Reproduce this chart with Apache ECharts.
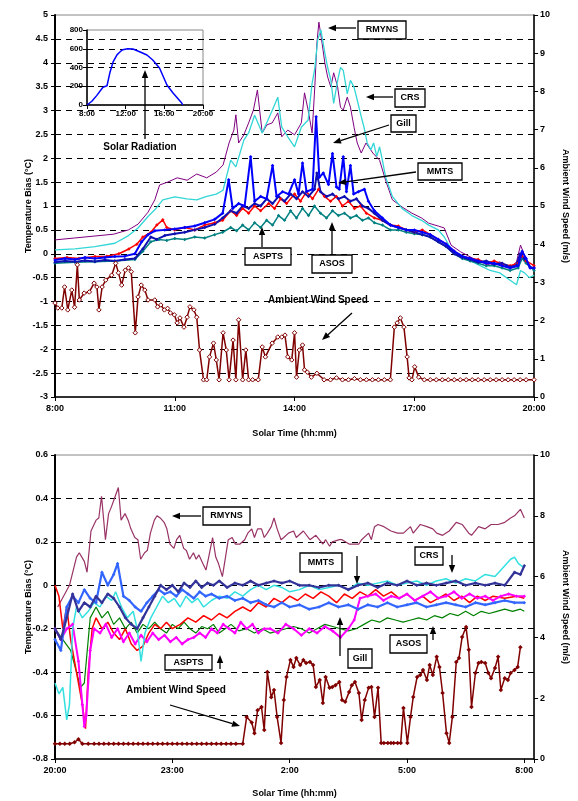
<!DOCTYPE html>
<html><head><meta charset="utf-8">
<script src="https://cdn.jsdelivr.net/npm/echarts@6/dist/echarts.min.js"></script>
<style>html,body{margin:0;padding:0;background:#fff}#c{width:578px;height:801px}</style>
</head><body><div id="c"></div>
<script>
// ---------- DATA (time in clock hours) ----------
// Top panel: daytime 8:00-20:00, temperature bias (°C) and wind speed (m/s)
const topRMYNS = [[8.00,0.29],[8.49,0.33],[8.98,0.37],[9.47,0.41],[9.84,0.50],[10.08,0.62],[10.33,0.87],[10.50,1.13],[10.62,1.44],[10.82,1.50],[11.06,1.59],[11.31,1.54],[11.55,1.67],[11.80,1.59],[12.04,1.71],[12.21,1.86],[12.36,2.32],[12.48,2.59],[12.53,2.91],[12.60,2.32],[12.73,2.49],[12.85,2.74],[12.97,3.01],[13.07,3.43],[13.19,2.53],[13.31,2.70],[13.44,2.74],[13.58,2.95],[13.68,2.45],[13.83,2.59],[14.00,2.49],[14.17,2.74],[14.25,3.37],[14.34,3.01],[14.44,2.53],[14.51,3.53],[14.56,4.41],[14.61,4.85],[14.69,4.41],[14.76,3.99],[14.83,3.70],[14.91,3.49],[14.98,3.79],[15.08,3.49],[15.15,3.07],[15.22,3.01],[15.32,3.28],[15.40,3.07],[15.49,2.65],[15.57,2.32],[15.67,2.11],[15.79,2.32],[15.96,2.11],[16.13,1.96],[16.28,1.54],[16.45,1.13],[16.69,0.98],[16.94,0.85],[17.18,0.75],[17.36,0.64],[17.60,0.58],[17.75,0.54],[17.92,0.18],[18.16,0.04],[18.41,-0.07],[18.65,-0.17],[18.90,-0.24],[19.14,-0.17],[19.39,-0.30],[19.56,-0.17],[19.66,0.18],[19.76,-0.03],[19.88,-0.24],[20.00,-0.34]];
const topCRS = [[8.00,0.08],[8.50,0.10],[9.00,0.15],[9.50,0.22],[9.84,0.38],[10.08,0.54],[10.33,0.78],[10.50,0.92],[10.70,1.13],[11.00,1.19],[11.30,1.15],[11.55,1.13],[11.80,1.20],[12.04,1.25],[12.21,1.33],[12.40,1.96],[12.53,1.82],[12.73,2.38],[12.85,2.53],[13.00,2.90],[13.19,2.53],[13.44,3.00],[13.58,3.28],[13.68,2.65],[13.83,2.45],[14.00,2.24],[14.17,2.65],[14.34,2.80],[14.44,3.57],[14.51,3.90],[14.58,4.48],[14.66,4.69],[14.76,4.20],[14.83,3.90],[14.91,3.63],[14.98,3.15],[15.08,3.63],[15.15,3.90],[15.22,3.84],[15.32,3.35],[15.40,3.63],[15.49,3.49],[15.57,3.22],[15.67,2.87],[15.74,2.65],[15.82,2.32],[15.91,2.18],[15.98,2.32],[16.06,2.04],[16.13,2.24],[16.20,1.96],[16.28,1.61],[16.45,1.20],[16.69,0.95],[16.94,0.80],[17.18,0.70],[17.36,0.60],[17.60,0.50],[17.75,0.35],[17.92,0.10],[18.16,-0.05],[18.41,-0.15],[18.65,-0.25],[18.90,-0.35],[19.14,-0.40],[19.39,-0.55],[19.56,-0.65],[19.66,-0.35],[19.76,-0.40],[19.88,-0.50],[20.00,-0.45]];
const topGill = [[8.00,-0.13],[8.25,-0.10],[8.50,-0.12],[8.75,-0.08],[9.00,-0.10],[9.25,-0.08],[9.50,-0.06],[9.75,-0.05],[10.00,0.00],[10.17,0.25],[10.33,0.40],[10.50,0.48],[10.75,0.50],[11.00,0.52],[11.25,0.55],[11.50,0.58],[11.75,0.65],[12.00,0.72],[12.20,0.85],[12.35,1.55],[12.45,0.95],[12.60,1.05],[12.75,1.00],[12.90,2.03],[13.00,1.10],[13.15,1.20],[13.30,1.15],[13.45,1.85],[13.55,1.20],[13.70,1.30],[13.85,1.25],[14.00,1.55],[14.10,1.25],[14.20,1.90],[14.30,1.30],[14.45,1.35],[14.54,2.87],[14.62,1.60],[14.72,1.69],[14.85,1.45],[14.95,2.10],[15.05,1.40],[15.12,1.35],[15.22,2.03],[15.30,1.30],[15.40,1.85],[15.48,1.25],[15.60,1.30],[15.75,1.35],[15.85,1.10],[16.00,0.90],[16.20,0.75],[16.40,0.60],[16.60,0.55],[16.80,0.50],[17.00,0.50],[17.20,0.45],[17.40,0.40],[17.60,0.30],[17.80,0.20],[18.00,0.05],[18.20,-0.05],[18.40,-0.10],[18.60,-0.15],[18.80,-0.20],[19.00,-0.20],[19.20,-0.25],[19.40,-0.30],[19.60,-0.25],[19.70,0.05],[19.80,-0.10],[19.90,-0.30],[20.00,-0.30]];
const topMMTS = [[8.00,-0.18],[8.25,-0.15],[8.50,-0.17],[8.75,-0.14],[9.00,-0.16],[9.25,-0.13],[9.50,-0.15],[9.75,-0.12],[10.00,-0.10],[10.20,0.10],[10.40,0.35],[10.55,0.30],[10.75,0.38],[11.00,0.42],[11.25,0.45],[11.50,0.50],[11.75,0.55],[12.00,0.62],[12.20,0.75],[12.40,0.90],[12.55,0.85],[12.70,1.00],[12.85,0.95],[13.00,1.05],[13.15,1.00],[13.30,1.15],[13.45,1.05],[13.60,1.20],[13.75,1.10],[13.90,1.25],[14.05,1.15],[14.20,1.30],[14.35,1.20],[14.50,1.35],[14.56,1.69],[14.65,1.30],[14.80,1.20],[14.95,1.25],[15.10,1.15],[15.25,1.20],[15.40,1.10],[15.55,1.15],[15.70,1.00],[15.85,0.95],[16.00,0.85],[16.20,0.70],[16.40,0.60],[16.60,0.55],[16.80,0.50],[17.00,0.45],[17.20,0.40],[17.40,0.35],[17.60,0.25],[17.80,0.15],[18.00,0.00],[18.20,-0.08],[18.40,-0.12],[18.60,-0.18],[18.80,-0.15],[19.00,-0.22],[19.20,-0.20],[19.40,-0.27],[19.55,-0.25],[19.65,0.00],[19.75,-0.10],[19.90,-0.28],[20.00,-0.30]];
const topASPTS = [[8.00,-0.10],[8.30,-0.08],[8.60,-0.10],[9.00,-0.06],[9.30,-0.05],[9.60,0.00],[9.85,0.10],[10.05,0.20],[10.20,0.35],[10.40,0.45],[10.55,0.60],[10.70,0.71],[10.80,0.55],[11.00,0.50],[11.25,0.55],[11.50,0.50],[11.75,0.60],[12.00,0.65],[12.20,0.70],[12.40,0.90],[12.55,0.80],[12.70,0.95],[12.85,0.85],[13.00,1.00],[13.15,0.90],[13.35,1.05],[13.50,0.95],[13.65,1.15],[13.80,1.05],[14.00,1.25],[14.15,1.10],[14.30,1.30],[14.45,1.15],[14.60,1.35],[14.75,1.20],[14.90,1.10],[15.05,1.20],[15.20,1.00],[15.35,1.10],[15.50,0.95],[15.65,1.00],[15.80,0.85],[16.00,0.75],[16.20,0.70],[16.40,0.60],[16.60,0.58],[16.80,0.50],[17.00,0.45],[17.20,0.50],[17.40,0.40],[17.60,0.30],[17.80,0.20],[18.00,0.05],[18.20,-0.05],[18.40,-0.10],[18.60,-0.12],[18.80,-0.20],[19.00,-0.15],[19.20,-0.22],[19.40,-0.25],[19.60,-0.20],[19.70,-0.05],[19.80,-0.15],[20.00,-0.25]];
const topASOS = [[8.00,-0.20],[8.50,-0.18],[9.00,-0.17],[9.50,-0.15],[10.00,-0.12],[10.20,0.05],[10.40,0.25],[10.60,0.30],[10.80,0.28],[11.00,0.32],[11.25,0.30],[11.50,0.35],[11.75,0.33],[12.00,0.40],[12.20,0.45],[12.40,0.55],[12.55,0.48],[12.70,0.60],[12.85,0.50],[13.00,0.65],[13.15,0.55],[13.30,0.70],[13.45,0.60],[13.60,0.80],[13.75,0.70],[13.90,0.90],[14.05,0.75],[14.20,0.95],[14.35,0.80],[14.50,1.00],[14.65,0.85],[14.80,0.75],[14.95,0.90],[15.10,0.80],[15.25,0.85],[15.40,0.75],[15.55,0.80],[15.70,0.70],[15.85,0.75],[16.00,0.65],[16.20,0.60],[16.40,0.50],[16.60,0.50],[16.80,0.45],[17.00,0.42],[17.20,0.40],[17.40,0.35],[17.60,0.25],[17.80,0.15],[18.00,0.00],[18.20,-0.10],[18.40,-0.15],[18.60,-0.20],[18.80,-0.25],[19.00,-0.25],[19.20,-0.30],[19.40,-0.35],[19.60,-0.30],[19.70,-0.10],[19.80,-0.20],[20.00,-0.35]];
const topWind = [[8.00,2.46],[8.07,2.33],[8.17,2.33],[8.24,2.88],[8.32,2.28],[8.42,2.80],[8.49,2.35],[8.56,3.46],[8.61,2.54],[8.73,2.72],[8.86,2.75],[8.98,2.98],[9.05,2.88],[9.10,2.28],[9.18,2.88],[9.27,3.06],[9.42,3.19],[9.52,3.50],[9.59,3.25],[9.67,2.93],[9.76,3.32],[9.84,3.38],[9.91,3.28],[10.01,1.68],[10.08,2.62],[10.16,2.93],[10.25,2.80],[10.33,2.54],[10.50,2.54],[10.57,2.36],[10.65,2.41],[10.74,2.28],[10.82,2.32],[10.89,2.20],[10.99,2.15],[11.06,1.94],[11.13,2.07],[11.23,1.83],[11.31,2.09],[11.38,2.36],[11.48,2.28],[11.55,2.09],[11.62,1.23],[11.72,0.45],[11.80,0.45],[11.87,1.05],[11.97,1.41],[12.04,0.97],[12.11,0.45],[12.21,1.68],[12.29,1.23],[12.36,0.45],[12.46,1.49],[12.53,0.45],[12.60,2.02],[12.70,0.45],[12.78,1.23],[12.85,0.45],[12.95,0.45],[13.09,0.45],[13.19,1.31],[13.27,1.05],[13.44,1.41],[13.58,1.57],[13.68,1.57],[13.76,1.62],[13.83,1.05],[13.93,0.97],[14.00,1.68],[14.05,0.52],[14.12,1.23],[14.20,1.36],[14.25,0.71],[14.32,0.65],[14.42,0.52],[14.56,0.62],[14.74,0.45],[14.90,0.45],[15.05,0.50],[15.20,0.45],[15.35,0.45],[15.50,0.48],[15.65,0.45],[15.80,0.45],[15.95,0.45],[16.10,0.45],[16.25,0.45],[16.40,0.45],[16.50,1.83],[16.57,1.94],[16.65,2.07],[16.74,1.83],[16.82,1.05],[16.87,0.50],[16.94,0.45],[17.01,0.79],[17.11,0.52],[17.25,0.45],[17.40,0.45],[17.55,0.45],[17.70,0.45],[17.85,0.45],[18.00,0.45],[18.15,0.45],[18.30,0.45],[18.45,0.45],[18.60,0.45],[18.75,0.45],[18.90,0.45],[19.05,0.45],[19.20,0.45],[19.35,0.45],[19.50,0.45],[19.65,0.45],[19.80,0.45],[20.00,0.45]];
// Inset: solar radiation (W/m2)
const solarRad = [[8.0,0],[8.5,40],[9.0,100],[9.65,190],[10.07,205],[10.38,350],[10.7,460],[11.1,535],[11.4,565],[11.7,590],[12.2,600],[12.76,597],[13.5,565],[14.2,533],[14.8,480],[15.5,395],[16.27,213],[16.9,128],[17.8,21],[17.9,0]];

// Bottom panel: night 20:00-8:00 (hours after midnight written as 24+)
const botRMYNS = [[20.07,-0.10],[20.37,0.00],[20.55,0.13],[20.62,0.15],[20.75,0.11],[20.82,0.06],[20.92,0.25],[21.05,0.30],[21.12,0.31],[21.19,0.41],[21.29,0.21],[21.37,0.33],[21.44,0.36],[21.54,0.41],[21.62,0.45],[21.69,0.30],[21.79,0.33],[21.87,0.30],[21.94,0.26],[22.04,0.22],[22.12,0.21],[22.19,0.12],[22.29,0.15],[22.36,0.16],[22.44,0.24],[22.54,0.30],[22.61,0.32],[22.69,0.31],[22.79,0.29],[22.86,0.26],[22.94,0.19],[23.04,0.17],[23.11,0.21],[23.19,0.23],[23.29,0.17],[23.36,0.16],[23.44,0.12],[23.54,0.15],[23.61,0.12],[23.68,0.14],[23.78,0.10],[23.86,0.07],[23.93,0.13],[24.03,0.22],[24.11,0.13],[24.18,0.10],[24.28,0.04],[24.36,0.13],[24.43,0.21],[24.53,0.22],[24.61,0.19],[24.73,0.19],[24.85,0.21],[24.93,0.24],[25.03,0.26],[25.10,0.22],[25.18,0.26],[25.28,0.26],[25.35,0.22],[25.43,0.24],[25.53,0.27],[25.60,0.31],[25.68,0.26],[25.78,0.21],[25.85,0.22],[25.97,0.24],[26.10,0.25],[26.17,0.22],[26.35,0.25],[26.52,0.21],[26.67,0.23],[26.85,0.19],[26.92,0.21],[27.02,0.18],[27.09,0.20],[27.27,0.21],[27.34,0.21],[27.52,0.19],[27.67,0.19],[27.77,0.19],[27.84,0.21],[28.02,0.24],[28.09,0.21],[28.17,0.27],[28.26,0.28],[28.41,0.27],[28.59,0.25],[28.76,0.24],[28.91,0.24],[29.09,0.27],[29.16,0.24],[29.34,0.28],[29.51,0.27],[29.66,0.26],[29.76,0.24],[29.91,0.23],[30.08,0.25],[30.26,0.29],[30.41,0.28],[30.58,0.24],[30.65,0.23],[30.83,0.27],[31.00,0.26],[31.15,0.28],[31.33,0.28],[31.50,0.29],[31.65,0.31],[31.75,0.32],[31.90,0.35],[32.00,0.31]];
const botCRS = [[20.00,-0.45],[20.10,-0.50],[20.20,-0.47],[20.30,-0.62],[20.37,-0.55],[20.45,-0.20],[20.55,-0.10],[20.70,-0.15],[20.85,-0.12],[21.00,-0.08],[21.15,-0.10],[21.30,-0.05],[21.45,-0.07],[21.55,-0.03],[21.70,-0.10],[21.85,-0.15],[22.00,-0.12],[22.10,-0.20],[22.20,-0.35],[22.30,-0.22],[22.45,-0.15],[22.60,-0.10],[22.75,-0.05],[22.90,-0.08],[23.05,-0.06],[23.20,-0.10],[23.35,-0.05],[23.50,-0.08],[23.65,-0.06],[23.80,-0.10],[24.00,-0.07],[24.20,-0.05],[24.40,-0.06],[24.60,-0.03],[24.80,-0.05],[25.00,-0.02],[25.20,0.00],[25.40,-0.02],[25.60,0.00],[25.80,-0.01],[26.00,-0.03],[26.25,-0.02],[26.50,0.00],[26.75,-0.02],[27.00,-0.01],[27.25,0.00],[27.50,-0.02],[27.75,0.01],[28.00,0.00],[28.25,0.01],[28.50,0.02],[28.75,0.00],[29.00,0.01],[29.25,0.02],[29.50,0.00],[29.75,0.02],[30.00,0.03],[30.25,0.01],[30.50,0.03],[30.75,0.02],[31.00,0.05],[31.25,0.04],[31.50,0.09],[31.65,0.12],[31.75,0.13],[31.85,0.10],[32.00,0.08]];
const botMMTS = [[20.00,-0.20],[20.15,-0.25],[20.30,-0.15],[20.45,-0.04],[20.60,-0.12],[20.75,-0.08],[20.90,-0.10],[21.05,-0.05],[21.20,-0.08],[21.35,-0.04],[21.50,-0.06],[21.65,-0.10],[21.80,-0.15],[21.95,-0.18],[22.10,-0.20],[22.25,-0.15],[22.40,-0.10],[22.55,-0.05],[22.70,0.00],[22.85,-0.02],[23.00,0.00],[23.15,-0.03],[23.30,0.01],[23.45,-0.01],[23.60,0.02],[23.75,-0.01],[23.90,0.01],[24.05,0.00],[24.20,0.02],[24.40,-0.01],[24.60,0.01],[24.80,0.00],[25.00,0.02],[25.20,0.00],[25.40,0.01],[25.60,0.02],[25.80,0.01],[26.00,0.02],[26.25,0.00],[26.50,0.00],[26.75,-0.01],[27.00,0.00],[27.25,0.00],[27.50,-0.02],[27.75,0.00],[28.00,0.01],[28.25,-0.01],[28.50,0.01],[28.75,0.00],[29.00,0.02],[29.25,0.00],[29.50,0.01],[29.75,0.00],[30.00,0.01],[30.25,0.02],[30.50,0.00],[30.75,0.01],[31.00,0.00],[31.25,0.01],[31.50,0.00],[31.75,0.06],[31.90,0.05],[32.00,0.09]];
const botGill = [[20.00,-0.25],[20.15,-0.30],[20.30,-0.10],[20.45,-0.05],[20.60,-0.08],[20.75,-0.02],[20.90,-0.06],[21.05,-0.08],[21.20,0.06],[21.35,0.00],[21.50,0.05],[21.60,0.10],[21.75,-0.05],[21.90,-0.07],[22.05,-0.10],[22.20,-0.12],[22.35,-0.08],[22.50,-0.05],[22.65,-0.02],[22.80,-0.04],[22.95,-0.03],[23.10,-0.05],[23.25,-0.02],[23.40,-0.04],[23.55,-0.06],[23.70,-0.03],[23.85,-0.05],[24.00,-0.04],[24.20,-0.06],[24.40,-0.05],[24.60,-0.07],[24.80,-0.06],[25.00,-0.08],[25.20,-0.07],[25.40,-0.09],[25.60,-0.10],[25.80,-0.08],[26.00,-0.10],[26.25,-0.09],[26.50,-0.11],[26.75,-0.10],[27.00,-0.08],[27.25,-0.10],[27.50,-0.09],[27.75,-0.11],[28.00,-0.09],[28.25,-0.10],[28.50,-0.08],[28.75,-0.10],[29.00,-0.09],[29.25,-0.08],[29.50,-0.10],[29.75,-0.09],[30.00,-0.08],[30.25,-0.09],[30.50,-0.10],[30.75,-0.08],[31.00,-0.09],[31.25,-0.08],[31.50,-0.07],[31.75,-0.08],[32.00,-0.08]];
const botASPTS = [[20.00,-0.20],[20.15,-0.25],[20.30,-0.20],[20.45,-0.18],[20.60,-0.35],[20.70,-0.55],[20.75,-0.65],[20.80,-0.60],[20.90,-0.30],[21.00,-0.20],[21.15,-0.22],[21.30,-0.18],[21.45,-0.24],[21.60,-0.20],[21.75,-0.26],[21.90,-0.22],[22.05,-0.27],[22.20,-0.23],[22.35,-0.26],[22.50,-0.22],[22.65,-0.25],[22.80,-0.23],[22.95,-0.26],[23.10,-0.24],[23.25,-0.27],[23.40,-0.25],[23.55,-0.24],[23.70,-0.22],[23.85,-0.24],[24.00,-0.20],[24.15,-0.22],[24.30,-0.18],[24.45,-0.20],[24.60,-0.22],[24.75,-0.17],[24.90,-0.20],[25.05,-0.18],[25.20,-0.22],[25.35,-0.20],[25.50,-0.20],[25.70,-0.22],[25.90,-0.18],[26.10,-0.20],[26.30,-0.23],[26.50,-0.20],[26.70,-0.22],[26.90,-0.19],[27.10,-0.21],[27.30,-0.24],[27.50,-0.20],[27.65,-0.16],[27.80,-0.06],[28.00,-0.05],[28.20,-0.04],[28.40,-0.07],[28.60,-0.05],[28.80,-0.06],[29.00,-0.04],[29.20,-0.07],[29.40,-0.05],[29.60,-0.03],[29.80,-0.06],[30.00,-0.05],[30.20,-0.03],[30.40,-0.06],[30.60,-0.04],[30.80,-0.06],[31.00,-0.05],[31.20,-0.07],[31.40,-0.05],[31.60,-0.04],[31.80,-0.05],[32.00,-0.05]];
const botASOS = [[20.00,-0.20],[20.20,-0.25],[20.40,-0.30],[20.55,-0.40],[20.65,-0.47],[20.75,-0.45],[20.90,-0.15],[21.05,-0.10],[21.20,-0.15],[21.35,-0.12],[21.50,-0.18],[21.65,-0.15],[21.80,-0.20],[21.95,-0.17],[22.10,-0.22],[22.25,-0.18],[22.40,-0.20],[22.55,-0.17],[22.70,-0.20],[22.85,-0.22],[23.00,-0.18],[23.15,-0.20],[23.30,-0.17],[23.45,-0.20],[23.60,-0.22],[23.75,-0.19],[23.90,-0.20],[24.05,-0.18],[24.20,-0.22],[24.35,-0.20],[24.50,-0.18],[24.70,-0.21],[24.90,-0.20],[25.10,-0.22],[25.30,-0.20],[25.50,-0.22],[25.70,-0.21],[25.90,-0.20],[26.10,-0.19],[26.30,-0.20],[26.50,-0.22],[26.70,-0.20],[26.90,-0.18],[27.10,-0.19],[27.30,-0.20],[27.50,-0.21],[27.70,-0.20],[27.90,-0.18],[28.10,-0.16],[28.30,-0.17],[28.50,-0.15],[28.70,-0.16],[28.90,-0.17],[29.10,-0.16],[29.30,-0.15],[29.50,-0.16],[29.70,-0.14],[29.90,-0.15],[30.10,-0.13],[30.30,-0.14],[30.50,-0.12],[30.70,-0.14],[30.90,-0.12],[31.10,-0.13],[31.30,-0.12],[31.50,-0.11],[31.70,-0.12],[31.90,-0.11],[32.00,-0.12]];
const botRed = [[20.00,0.00],[20.10,-0.05],[20.20,-0.20],[20.30,-0.10],[20.40,-0.25],[20.50,-0.35],[20.60,-0.45],[20.70,-0.55],[20.78,-0.66],[20.85,-0.40],[20.95,-0.20],[21.05,-0.15],[21.20,-0.20],[21.35,-0.17],[21.50,-0.22],[21.65,-0.25],[21.80,-0.20],[21.95,-0.27],[22.10,-0.30],[22.25,-0.28],[22.40,-0.22],[22.55,-0.18],[22.70,-0.20],[22.85,-0.17],[23.00,-0.20],[23.20,-0.18],[23.40,-0.15],[23.60,-0.17],[23.80,-0.14],[24.00,-0.16],[24.20,-0.13],[24.40,-0.15],[24.60,-0.12],[24.80,-0.10],[25.00,-0.12],[25.20,-0.08],[25.40,-0.10],[25.60,-0.06],[25.80,-0.08],[26.00,-0.05],[26.20,-0.07],[26.40,-0.04],[26.60,-0.06],[26.80,-0.03],[27.00,-0.05],[27.20,-0.08],[27.40,-0.04],[27.60,-0.06],[27.80,-0.03],[28.00,-0.05],[28.20,-0.02],[28.40,-0.05],[28.60,-0.03],[28.80,-0.06],[29.00,-0.04],[29.20,-0.07],[29.40,-0.05],[29.60,-0.08],[29.80,-0.06],[30.00,-0.04],[30.20,-0.07],[30.40,-0.05],[30.60,-0.08],[30.80,-0.05],[31.00,-0.07],[31.20,-0.05],[31.50,-0.06],[31.80,-0.05],[32.00,-0.06]];
const botWind = [[20.00,0.5],[20.125,0.5],[20.25,0.5],[20.375,0.5],[20.5,0.55],[20.6,0.65],[20.7,0.5],[20.85,0.5],[21.0,0.5],[21.125,0.5],[21.25,0.5],[21.375,0.5],[21.5,0.5],[21.625,0.5],[21.75,0.5],[21.875,0.5],[22.0,0.5],[22.125,0.5],[22.25,0.5],[22.375,0.5],[22.5,0.5],[22.625,0.5],[22.75,0.5],[22.875,0.5],[23.0,0.5],[23.125,0.5],[23.25,0.5],[23.375,0.5],[23.5,0.5],[23.625,0.5],[23.75,0.5],[23.875,0.5],[24.0,0.5],[24.125,0.5],[24.25,0.5],[24.375,0.5],[24.5,0.5],[24.625,0.5],[24.8,0.5],[24.90,1.38],[25.03,1.20],[25.10,0.85],[25.18,1.60],[25.28,1.71],[25.35,0.95],[25.43,2.86],[25.53,2.03],[25.60,2.27],[25.68,1.38],[25.78,0.53],[25.85,1.94],[25.92,2.70],[26.02,3.26],[26.10,3.03],[26.17,3.32],[26.27,3.09],[26.35,3.26],[26.42,3.16],[26.52,3.19],[26.60,3.09],[26.67,2.37],[26.77,2.60],[26.85,1.84],[26.92,2.70],[27.02,2.34],[27.09,2.37],[27.17,2.43],[27.27,2.53],[27.34,1.94],[27.42,1.88],[27.52,2.20],[27.59,2.43],[27.67,2.53],[27.77,2.17],[27.84,1.28],[27.92,1.94],[28.02,2.34],[28.09,2.37],[28.17,1.38],[28.26,2.34],[28.34,0.53],[28.41,0.53],[28.51,0.53],[28.59,0.53],[28.66,0.53],[28.76,0.53],[28.84,0.53],[28.91,1.68],[29.01,0.53],[29.09,1.38],[29.16,2.04],[29.26,2.70],[29.34,2.76],[29.41,2.93],[29.51,2.60],[29.58,3.09],[29.66,2.76],[29.76,3.36],[29.83,3.03],[29.91,2.17],[30.01,0.85],[30.08,0.53],[30.16,1.38],[30.26,3.19],[30.33,3.32],[30.41,4.01],[30.51,4.34],[30.58,3.59],[30.65,1.71],[30.75,2.83],[30.83,3.16],[30.90,3.19],[31.00,3.16],[31.08,2.83],[31.15,2.66],[31.25,2.99],[31.33,3.36],[31.40,2.27],[31.50,2.66],[31.58,2.60],[31.65,2.83],[31.75,2.93],[31.83,3.03],[31.90,3.68]];

const topTicksStart = 8, botTicksStart = 20;
const xTitle = 'Solar Time (hh:mm)';
const yTitleL = 'Temperature Bias (°C)';
const yTitleR = 'Ambient Wind Speed (m/s)';

// ---------- CHART ----------
const FONT = 'Liberation Sans';
const shift = (arr, t0) => arr.map(p => [p[0] - t0, p[1]]);
const chart = echarts.init(document.getElementById('c'), null, {renderer: 'canvas'});

function valAxisX(gi, t0, max, interval, extra) {
  return Object.assign({
    type: 'value', gridIndex: gi, min: 0, max: max, interval: interval,
    axisLine: {show: true, onZero: false, lineStyle: {color: '#000', width: 1.5}},
    axisTick: {show: true, length: 4, lineStyle: {color: '#000'}},
    axisLabel: {color: '#000', fontFamily: FONT, fontSize: 9, fontWeight: 'bold', margin: 7,
      formatter: v => (Math.abs(v / interval - Math.round(v / interval)) < 1e-6 ? ((Math.round(v) + t0) % 24) + ':00' : '')},
    splitLine: {show: false}
  }, extra || {});
}
function leftY(gi, min, max, interval, extra) {
  return Object.assign({
    type: 'value', gridIndex: gi, min: min, max: max, interval: interval, position: 'left',
    axisLine: {show: true, onZero: false, lineStyle: {color: '#000', width: 2}},
    axisTick: {show: true, length: 4, lineStyle: {color: '#000'}},
    axisLabel: {color: '#000', fontFamily: FONT, fontSize: 9, fontWeight: 'bold', margin: 7,
      formatter: v => String(Math.round(v * 100) / 100)},
    splitLine: {show: true, showMaxLine: false, showMinLine: false, lineStyle: {color: '#000', type: [6, 5], width: 1}}
  }, extra || {});
}
function rightY(gi, min, max, interval, extra) {
  return Object.assign({
    type: 'value', gridIndex: gi, min: min, max: max, interval: interval, position: 'right',
    axisLine: {show: true, onZero: false, lineStyle: {color: '#000', width: 1.5}},
    axisTick: {show: true, length: 4, lineStyle: {color: '#000'}},
    axisLabel: {color: '#000', fontFamily: FONT, fontSize: 9, fontWeight: 'bold', margin: 6},
    splitLine: {show: false}
  }, extra || {});
}
const nameStyle = {color: '#000', fontFamily: FONT, fontSize: 9, fontWeight: 'bold'};

function line(name, data, t0, color, width, xi, yi, sym, z) {
  const s = {
    name: name, type: 'line', data: shift(data, t0), xAxisIndex: xi, yAxisIndex: yi,
    lineStyle: {color: color, width: width}, itemStyle: {color: color},
    showSymbol: !!sym, symbol: sym ? sym.symbol : 'none', symbolSize: sym ? sym.size : 0,
    silent: true, animation: false, z: z || 2
  };
  if (sym && sym.hollow) s.itemStyle = {color: '#fff', borderColor: color, borderWidth: 1};
  return s;
}
const dia = {symbol: 'diamond', size: 3.5};
const windSym = {symbol: 'diamond', size: 4.5, hollow: true};
const windDot = {symbol: 'diamond', size: 4.5};

// annotation helpers
function arrow(x1, y1, x2, y2) {
  const a = Math.atan2(y2 - y1, x2 - x1), L = 8, W = 3.2;
  const bx = x2 - L * Math.cos(a), by = y2 - L * Math.sin(a);
  return [
    {type: 'line', shape: {x1: x1, y1: y1, x2: bx, y2: by}, style: {stroke: '#000', lineWidth: 1.3}, z: 100},
    {type: 'polygon', shape: {points: [[x2, y2], [bx - W * Math.sin(a), by + W * Math.cos(a)], [bx + W * Math.sin(a), by - W * Math.cos(a)]]}, style: {fill: '#000'}, z: 100}
  ];
}
function box(label, x, y, w, h) {
  return [
    {type: 'rect', shape: {x: x, y: y, width: w, height: h}, style: {fill: '#fff', stroke: '#000', lineWidth: 1.3}, z: 100},
    {type: 'text', x: x + w / 2, y: y + h / 2, style: {text: label, fill: '#000', font: 'bold 9px "Liberation Sans"', align: 'center', verticalAlign: 'middle'}, z: 101}
  ];
}
function txt(label, x, y, size) {
  return {type: 'text', x: x, y: y, style: {text: label, fill: '#000', font: 'bold ' + (size || 10) + 'px "Liberation Sans"', align: 'center', verticalAlign: 'middle'}, z: 101};
}
const graphics = [].concat(
  box('RMYNS', 358, 21, 48, 18), arrow(356, 28, 328, 28),
  box('CRS', 395, 89, 30, 18), arrow(393, 97, 366, 97),
  box('Gill', 391, 115, 25, 17), arrow(389, 125, 333, 143),
  box('MMTS', 418, 163, 44, 17), arrow(416, 172, 338, 183),
  box('ASPTS', 245, 248, 46, 17), arrow(262, 247, 262, 227),
  box('ASOS', 312, 255, 40, 18), arrow(332, 254, 332, 222),
  [txt('Ambient Wind Speed', 318, 300)], arrow(352, 313, 322, 340),
  [txt('Solar Radiation', 140, 147)], arrow(145, 139, 145, 70),
  box('RMYNS', 203, 507, 47, 18), arrow(201, 516, 172, 516),
  box('MMTS', 300, 553, 42, 19), arrow(357, 556, 357, 584),
  box('CRS', 415, 547, 28, 18), arrow(452, 555, 452, 573),
  box('ASPTS', 165, 655, 47, 15), arrow(220, 669, 220, 655),
  box('Gill', 348, 649, 24, 19), arrow(340, 656, 340, 617),
  box('ASOS', 390, 635, 37, 18), arrow(433, 640, 433, 626),
  [txt('Ambient Wind Speed', 176, 690)], arrow(170, 705, 240, 726)
);

const option = {
  backgroundColor: '#fff',
  animation: false,
  grid: [
    {left: 55, top: 15, width: 490, height: 382, show: true, borderColor: '#888', borderWidth: 1, backgroundColor: 'transparent'},
    {left: 55, top: 455, width: 492, height: 304, show: true, borderColor: '#888', borderWidth: 1, backgroundColor: 'transparent'},
    {left: 87, top: 30, width: 116, height: 75, show: true, borderColor: '#888', borderWidth: 1, backgroundColor: 'transparent'}
  ],
  xAxis: [
    valAxisX(0, topTicksStart, 12, 3, {name: xTitle, nameLocation: 'middle', nameGap: 32, nameTextStyle: nameStyle}),
    valAxisX(1, botTicksStart, 12.25, 3, {name: xTitle, nameLocation: 'middle', nameGap: 30, nameTextStyle: nameStyle}),
    valAxisX(2, topTicksStart, 12, 4, {axisLabel: {color: '#000', fontFamily: FONT, fontSize: 8, fontWeight: 'bold', margin: 5, formatter: v => (v + topTicksStart) + ':00'}})
  ],
  yAxis: [
    leftY(0, -3, 5, 0.5, {name: yTitleL, nameLocation: 'middle', nameGap: 22, nameMoveOverlap: false, nameTextStyle: nameStyle}),
    rightY(0, 0, 10, 1, {name: yTitleR, nameLocation: 'middle', nameGap: 20, nameRotate: -90, nameTextStyle: nameStyle}),
    leftY(1, -0.8, 0.6, 0.2, {name: yTitleL, nameLocation: 'middle', nameGap: 22, nameMoveOverlap: false, nameTextStyle: nameStyle}),
    rightY(1, 0, 10, 2, {name: yTitleR, nameLocation: 'middle', nameGap: 20, nameRotate: -90, nameTextStyle: nameStyle}),
    leftY(2, 0, 800, 200, {axisLine: {show: true, onZero: false, lineStyle: {color: '#000', width: 1.5}}, axisLabel: {color: '#000', fontFamily: FONT, fontSize: 8, fontWeight: 'bold', margin: 4}})
  ],
  series: [
    line('RMYNS', topRMYNS, 8, '#800080', 1, 0, 0),
    line('CRS', topCRS, 8, '#33D6D6', 1.3, 0, 0),
    line('ASOS', topASOS, 8, '#008080', 1.5, 0, 0, dia),
    line('ASPTS', topASPTS, 8, '#FF0000', 1.5, 0, 0, dia),
    line('MMTS', topMMTS, 8, '#1010B0', 2, 0, 0, dia),
    line('Gill', topGill, 8, '#0000FF', 2, 0, 0, dia, 3),
    line('Wind', topWind, 8, '#800000', 1.5, 0, 1, windSym, 4),
    line('RMYNS', botRMYNS, 20, '#993366', 1.2, 1, 2),
    line('ASOS', botASOS, 20, '#008000', 1.2, 1, 2),
    line('Red', botRed, 20, '#FF0000', 1.5, 1, 2),
    line('ASPTS', botASPTS, 20, '#FF00FF', 2, 1, 2, dia),
    line('CRS', botCRS, 20, '#33E0E0', 1.5, 1, 2),
    line('Gill', botGill, 20, '#3366FF', 2.2, 1, 2, dia),
    line('MMTS', botMMTS, 20, '#333399', 2.2, 1, 2, dia, 3),
    line('Wind', botWind, 20, '#800000', 1.5, 1, 3, windDot, 4),
    line('Solar Radiation', solarRad, 8, '#0000FF', 1.5, 2, 4)
  ],
  graphic: graphics
};
chart.setOption(option);
</script>
</body></html>
